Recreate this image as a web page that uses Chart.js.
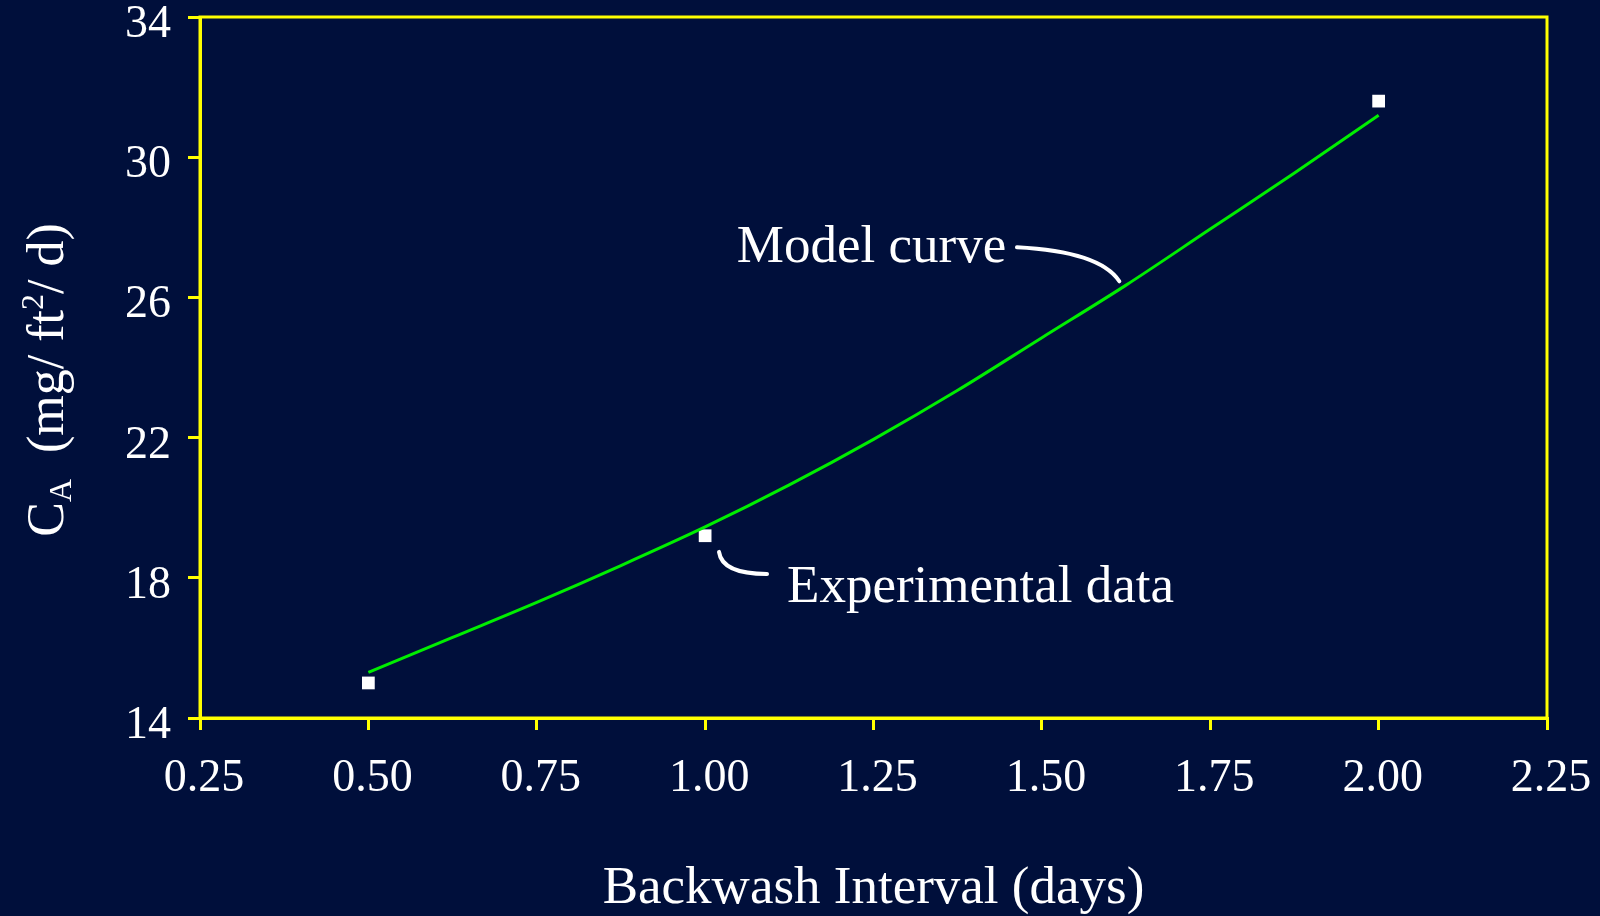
<!DOCTYPE html>
<html lang="en">
<head>
  <meta charset="UTF-8">
  <title>Backwash Interval</title>
  <style>
    html, body { margin: 0; padding: 0; background: #000f3b; }
    canvas { display: block; }
  </style>
</head>
<body>
  <canvas id="chart" width="1600" height="916"></canvas>
  <script src="https://cdn.jsdelivr.net/npm/chart.js"></script>
  <script>
    // values
    const backwashDays = [0.5, 1.0, 2.0];
    const measuredCA = [15.0, 19.2, 31.6];

    const modelDays = [0.5, 0.625, 0.75, 0.875, 1.0, 1.125, 1.25, 1.375, 1.5, 1.625, 1.75, 1.875, 2.0];
    const modelCA = [15.3, 16.3, 17.3, 18.35, 19.45, 20.65, 21.95, 23.35, 24.85, 26.35, 27.95, 29.55, 31.2];

    const xTickLabels = ["0.25", "0.50", "0.75", "1.00", "1.25", "1.50", "1.75", "2.00", "2.25"];
    const yTickLabels = ["14", "18", "22", "26", "30", "34"];

    const YELLOW = "#ffff00";
    const SERIF = "'Liberation Serif', 'Times New Roman', serif";

    const frame = {
      id: "frame",
      beforeDatasetsDraw(chart) {
        const { ctx, chartArea: a } = chart;
        ctx.save();
        ctx.strokeStyle = YELLOW;
        ctx.lineWidth = 3;
        ctx.strokeRect(a.left, a.top, a.right - a.left, a.bottom - a.top);
        ctx.restore();
      },
    };

    const notes = {
      id: "notes",
      afterDraw(chart) {
        const { ctx } = chart;
        const x = chart.scales.x, y = chart.scales.y;
        const px = (v) => x.getPixelForValue(v);
        const py = (v) => y.getPixelForValue(v);

        ctx.save();
        ctx.fillStyle = "#ffffff";
        ctx.strokeStyle = "#ffffff";
        ctx.lineWidth = 4;
        ctx.lineCap = "round";

        // Model curve label + leader
        ctx.font = "53px " + SERIF;
        ctx.textAlign = "right";
        ctx.textBaseline = "alphabetic";
        ctx.fillText("Model curve", px(1.447), py(27.0));
        ctx.beginPath();
        ctx.moveTo(px(1.463), py(27.43));
        ctx.quadraticCurveTo(px(1.586), py(27.31), px(1.615), py(26.46));
        ctx.stroke();

        // Experimental data label + leader
        ctx.textAlign = "left";
        ctx.fillText("Experimental data", px(1.1216), py(17.31));
        ctx.beginPath();
        ctx.moveTo(px(1.0206), py(18.74));
        ctx.quadraticCurveTo(px(1.0251), py(18.11), px(1.0919), py(18.11));
        ctx.stroke();

        // y axis title  C_A (mg/ft²/d)
        const big = "52px " + SERIF, small = "32px " + SERIF;
        const parts = [
          { t: "C", f: big, dy: 0 },
          { t: "A", f: small, dy: 8 },
          { t: "  (mg/ ft", f: big, dy: 0 },
          { t: "2", f: small, dy: -20 },
          { t: "/ d)", f: big, dy: 0 },
        ];
        let total = 0;
        parts.forEach((p) => { ctx.font = p.f; p.w = ctx.measureText(p.t).width; total += p.w; });
        ctx.translate(63, 380 + total / 2);
        ctx.rotate(-Math.PI / 2);
        ctx.textAlign = "left";
        let cx = 0;
        parts.forEach((p) => {
          ctx.font = p.f;
          ctx.fillText(p.t, cx, p.dy);
          cx += p.w;
        });
        ctx.restore();
      },
    };

    new Chart(document.getElementById("chart"), {
      type: "scatter",
      data: {
        datasets: [
          {
            label: "Model curve",
            data: modelDays.map((d, i) => ({ x: d, y: modelCA[i] })),
            showLine: true,
            borderColor: "#00ee00",
            borderWidth: 3,
            pointRadius: 0,
            cubicInterpolationMode: "monotone",
          },
          {
            label: "Experimental data",
            data: backwashDays.map((d, i) => ({ x: d, y: measuredCA[i] })),
            pointStyle: "rect",
            pointRadius: 9,
            pointBorderWidth: 0,
            backgroundColor: "#ffffff",
            borderColor: "#ffffff",
          },
        ],
      },
      options: {
        responsive: false,
        devicePixelRatio: 1,
        animation: false,
        layout: { padding: { left: 0, top: 17, right: 53, bottom: 0 } },
        plugins: { legend: { display: false }, tooltip: { enabled: false } },
        scales: {
          x: {
            type: "linear",
            min: 0.25,
            max: 2.25,
            afterFit: (s) => { s.height = 198; s.paddingLeft = 0; s.paddingRight = 0; },
            afterBuildTicks: (s) => { s.ticks = xTickLabels.map((t) => ({ value: parseFloat(t) })); },
            border: { color: YELLOW, width: 3 },
            grid: { drawOnChartArea: false, drawTicks: true, tickLength: 12, color: YELLOW, lineWidth: 3 },
            ticks: {
              color: "#ffffff",
              font: { family: SERIF, size: 46 },
              padding: 21,
              labelOffset: 4,
              maxRotation: 0,
              autoSkip: false,
              callback: (v) => v.toFixed(2),
            },
            title: {
              display: true,
              text: "Backwash Interval (days)",
              color: "#ffffff",
              font: { family: SERIF, size: 53, lineHeight: 1 },
              padding: 0,
            },
          },
          y: {
            type: "linear",
            min: 14,
            max: 34,
            afterFit: (s) => { s.width = 200; s.paddingTop = 0; s.paddingBottom = 0; },
            afterBuildTicks: (s) => { s.ticks = yTickLabels.map((t) => ({ value: Number(t) })); },
            border: { color: YELLOW, width: 3 },
            grid: { drawOnChartArea: false, drawTicks: true, tickLength: 12, color: YELLOW, lineWidth: 3 },
            ticks: {
              color: "#ffffff",
              font: { family: SERIF, size: 46 },
              padding: 17,
              labelOffset: 8,
              autoSkip: false,
            },
          },
        },
      },
      plugins: [frame, notes],
    });
  </script>
</body>
</html>
